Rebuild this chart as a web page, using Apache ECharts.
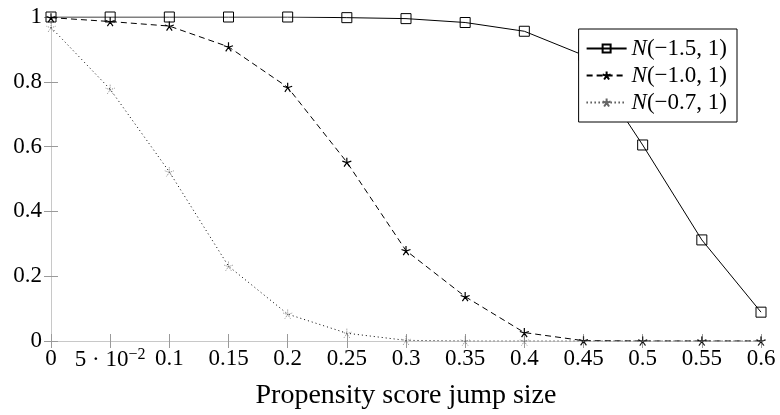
<!DOCTYPE html>
<html>
<head>
<meta charset="utf-8">
<script src="https://cdn.jsdelivr.net/npm/echarts@6/dist/echarts.min.js"></script>
<style>
html,body{margin:0;padding:0;background:#fff;}
#chart{width:780px;height:415px;}
</style>
</head>
<body>
<div id="chart"></div>
<script>
// ---- data ----
const xValues = [0, 0.05, 0.1, 0.15, 0.2, 0.25, 0.3, 0.35, 0.4, 0.45, 0.5, 0.55, 0.6];
const xTickLabels = ['0', '5 · 10{sup|−2}', '0.1', '0.15', '0.2', '0.25', '0.3', '0.35', '0.4', '0.45', '0.5', '0.55', '0.6'];
const yTickLabels = ['0', '0.2', '0.4', '0.6', '0.8', '1'];
const seriesNames = ['N(−1.5, 1)', 'N(−1.0, 1)', 'N(−0.7, 1)'];
const valsA = [1, 1, 1, 1, 1, 0.998, 0.995, 0.983, 0.956, 0.882, 0.605, 0.312, 0.089];
const valsB = [0.998, 0.986, 0.972, 0.908, 0.783, 0.552, 0.279, 0.137, 0.026, 0.001, 0, 0, 0];
const valsC = [0.968, 0.777, 0.522, 0.231, 0.083, 0.024, 0.002, 0, 0, 0, 0, 0, 0];
const xTitle = 'Propensity score jump size';

// ---- chart ----
const SERIF = '"Liberation Serif", "DejaVu Serif", serif';
const starPath = 'path://M10,10L10,0M10,10L0.49,6.91M10,10L4.12,18.09M10,10L15.88,18.09M10,10L19.51,6.91';
const frameColor = '#c8c8c8';
const tickColor = '#9a9a9a';

function pairs(vals){ return xValues.map((x,i)=>[x, vals[i]]); }

const baseX = {
  type: 'value', min: 0, max: 0.6, interval: 0.05,
  axisLine: {show: true, lineStyle: {color: frameColor, width: 1}},
  axisTick: {show: true, inside: true, length: 7, lineStyle: {color: tickColor}},
  splitLine: {show: false}
};
const baseY = {
  type: 'value', min: 0, max: 1, interval: 0.2,
  axisLine: {show: true, lineStyle: {color: frameColor, width: 1}},
  axisTick: {show: true, inside: true, length: 7, lineStyle: {color: tickColor}},
  splitLine: {show: false}
};

const chart = echarts.init(document.getElementById('chart'), null, {renderer: 'canvas'});
chart.setOption({
  animation: false,
  backgroundColor: '#fff',
  grid: {left: 51, right: 19, top: 17, bottom: 74, containLabel: false},
  xAxis: [
    Object.assign({}, baseX, {
      position: 'bottom',
      name: xTitle, nameLocation: 'middle', nameGap: 55, nameMoveOverlap: false,
      nameTextStyle: {fontFamily: SERIF, fontSize: 28, color: '#000', verticalAlign: 'middle'},
      axisLabel: {
        show: true, margin: 6, color: '#000', fontFamily: SERIF, fontSize: 23,
        formatter: v => xTickLabels[Math.round(v / 0.05)],
        rich: {sup: {fontFamily: SERIF, fontSize: 16, color: '#000', verticalAlign: 'top', padding: [0,0,10,0]}}
      }
    }),
    Object.assign({}, baseX, {position: 'top', axisLabel: {show: false}})
  ],
  yAxis: [
    Object.assign({}, baseY, {
      position: 'left',
      axisLabel: {
        show: true, margin: 9, color: '#000', fontFamily: SERIF, fontSize: 23,
        formatter: v => yTickLabels[Math.round(v / 0.2)]
      }
    }),
    Object.assign({}, baseY, {position: 'right', axisLabel: {show: false}})
  ],
  legend: {
    orient: 'vertical', right: 43, top: 29,
    backgroundColor: '#fff', borderColor: '#000', borderWidth: 1,
    padding: [8, 10, 8, 7], itemGap: 4, itemWidth: 40, itemHeight: 10,
    data: seriesNames,
    formatter: name => '{i|N}' + name.slice(1),
    textStyle: {
      fontFamily: SERIF, fontSize: 23, color: '#000',
      rich: {i: {fontFamily: SERIF, fontStyle: 'italic', fontSize: 23, color: '#000'}}
    }
  },
  series: [
    {
      name: seriesNames[0], type: 'line', data: pairs(valsA),
      symbol: 'rect', symbolSize: 10, showAllSymbol: true,
      lineStyle: {color: '#000', width: 1, type: 'solid'},
      itemStyle: {color: 'transparent', borderColor: '#000', borderWidth: 1}
    },
    {
      name: seriesNames[1], type: 'line', data: pairs(valsB),
      symbol: starPath, symbolSize: 9, showAllSymbol: true,
      lineStyle: {color: '#000', width: 1, type: [6, 4]},
      itemStyle: {color: 'none', borderColor: '#000', borderWidth: 1.2}
    },
    {
      name: seriesNames[2], type: 'line', data: pairs(valsC),
      symbol: starPath, symbolSize: 9, showAllSymbol: true,
      lineStyle: {color: '#000', width: 1, type: [1, 3]},
      itemStyle: {color: 'none', borderColor: '#666', borderWidth: 0.8, borderType: [1, 1]}
    }
  ]
});
</script>
</body>
</html>
